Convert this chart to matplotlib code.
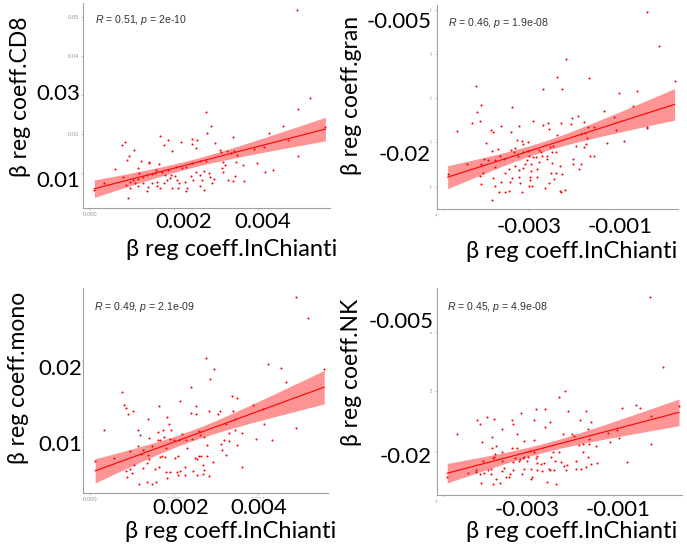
import numpy as np
import matplotlib
matplotlib.use("Agg")
import matplotlib.pyplot as plt
from matplotlib.patches import Rectangle

plt.rcParams.update({
    'font.family': ['Liberation Sans', 'DejaVu Sans'],
    'mathtext.fontset': 'custom',
    'mathtext.rm': 'Liberation Sans',
    'mathtext.it': 'Liberation Sans:italic',
})

W, H = 687, 551
BIG_FONT = ['Lato', 'DejaVu Sans']
RED = '#FF0000'

# ---- data (x in 1e-3, y in panel units) ----
cd8_pts = np.array([
    (2.75, 2.58), (2.88, 2.21), (2.77, 2.04), (1.66, 1.96), (0.82, 1.81), (0.77, 1.73),
    (1.75, 1.72), (1.85, 1.85), (2.17, 1.80), (2.42, 1.87), (2.55, 1.85), (2.42, 1.74),
    (2.53, 1.66), (2.98, 1.77), (3.41, 1.94), (1.05, 1.61), (1.94, 1.58), (0.92, 1.44),
    (0.87, 1.34), (1.21, 1.32), (1.39, 1.29), (1.39, 1.26), (1.64, 1.23), (0.59, 1.11),
    (1.15, 1.13), (1.17, 1.02), (0.33, 0.76), (0.90, 0.36), (3.09, 1.60), (3.12, 1.55),
    (3.25, 1.57), (3.35, 1.53), (3.43, 1.58), (3.49, 1.47), (3.16, 1.30), (3.21, 1.21),
    (3.14, 1.14), (3.16, 1.03), (3.48, 1.28), (3.64, 1.21), (3.28, 0.83), (3.40, 0.80),
    (3.45, 0.93), (3.66, 0.81), (2.76, 1.32), (2.61, 1.32), (2.42, 1.26), (2.29, 1.17),
    (2.18, 1.13), (2.04, 1.17), (1.86, 1.08), (1.71, 1.04), (1.55, 1.02), (1.47, 0.98),
    (1.35, 0.96), (1.25, 0.90), (1.15, 0.85), (1.03, 0.83), (0.95, 0.78), (0.86, 0.70),
    (0.95, 0.62), (1.07, 0.74), (1.27, 0.74), (1.37, 0.64), (1.36, 0.55), (1.47, 0.74),
    (1.59, 0.78), (1.59, 0.67), (1.67, 0.62), (1.75, 0.74), (1.83, 0.83), (1.90, 0.87),
    (1.93, 0.96), (2.02, 0.93), (2.06, 0.83), (2.12, 0.74), (2.10, 0.62), (2.26, 0.78),
    (2.30, 0.62), (2.40, 0.93), (2.46, 0.83), (2.52, 1.04), (2.62, 0.96), (2.67, 0.83),
    (2.62, 0.67), (2.72, 0.57), (2.82, 1.02), (2.86, 0.90), (2.90, 0.74), (2.94, 0.85),
    (2.70, 1.07), (2.28, 0.54), (1.96, 0.62), (1.56, 1.08), (1.79, 0.96), (1.15, 0.67),
    (0.79, 0.90), (4.93, 5.19), (5.23, 2.94), (4.94, 2.64), (5.60, 2.19), (4.59, 2.21),
    (4.26, 2.03), (4.94, 1.44), (4.17, 1.03), (4.36, 1.09), (3.97, 1.26), (3.91, 1.62),
    (4.14, 1.67), (4.70, 1.85), (0.10, 0.57),
])

gran_pts = np.array([
    (-2.11, -10.58), (-2.32, -12.58), (-2.20, -13.94), (-2.65, -13.94), (-4.24, -13.60),
    (-4.11, -15.82), (-4.21, -16.61), (-4.15, -17.56), (-4.67, -18.72), (-3.39, -15.97),
    (-3.64, -18.12), (-3.21, -18.12), (-2.90, -17.59), (-2.65, -18.01), (-2.54, -17.85),
    (-2.52, -18.46), (-2.23, -17.78), (-2.32, -19.17), (-3.88, -18.64), (-3.83, -18.83),
    (-3.40, -18.83), (-3.27, -19.71), (-3.99, -20.11), (-3.15, -19.89), (-3.13, -20.23),
    (-3.01, -19.93), (-3.32, -20.61), (-3.41, -20.87), (-3.85, -20.98), (-3.71, -20.79),
    (-3.34, -21.06), (-3.13, -21.06), (-3.02, -20.95), (-3.24, -21.55), (-2.99, -21.55),
    (-2.90, -21.70), (-2.83, -21.70), (-2.70, -21.06), (-2.68, -21.55), (-2.56, -21.55),
    (-2.44, -21.06), (-2.34, -21.06), (-2.50, -20.50), (-2.42, -20.42), (-2.74, -20.87),
    (-4.44, -22.49), (-4.04, -21.92), (-3.96, -22.00), (-3.78, -22.00), (-3.66, -21.55),
    (-3.58, -21.92), (-3.79, -22.76), (-3.03, -22.00), (-2.76, -22.19), (-2.56, -21.92),
    (-2.44, -22.31), (-3.08, -22.45), (-3.22, -23.13), (-3.13, -22.94), (-2.93, -22.45),
    (-2.80, -23.05), (-2.93, -23.21), (-3.32, -22.68), (-3.46, -23.02), (-3.56, -23.44),
    (-4.07, -23.44), (-4.15, -23.81), (-3.83, -24.00), (-3.38, -24.00), (-3.21, -23.89),
    (-2.97, -23.89), (-2.79, -23.89), (-2.97, -24.26), (-2.46, -23.44), (-2.36, -23.51),
    (-2.26, -22.68), (-2.20, -23.62), (-2.39, -24.18), (-2.51, -24.64), (-4.12, -24.72),
    (-3.78, -24.94), (-3.64, -24.46), (-3.44, -24.52), (-3.19, -24.57), (-2.98, -24.94),
    (-2.91, -24.94), (-2.60, -25.13), (-2.25, -25.51), (-2.14, -25.40), (-3.69, -25.66),
    (-3.54, -25.62), (-3.46, -25.54), (-3.16, -25.62), (-3.86, -26.53), (-0.21, -5.30),
    (0.08, -9.11), (-1.58, -12.76), (-0.86, -14.39), (-0.45, -14.20), (0.44, -13.07),
    (-0.54, -15.89), (-1.21, -16.46), (-0.98, -17.14), (-1.97, -17.29), (-1.84, -17.06),
    (-1.69, -17.67), (-2.00, -17.93), (-1.46, -18.27), (-1.60, -18.27), (-0.94, -18.57),
    (-0.20, -18.24), (-0.20, -18.42), (-1.76, -19.03), (-1.67, -18.91), (-1.61, -19.48),
    (-1.15, -20.05), (-0.76, -19.82), (-1.65, -20.23), (-1.87, -20.45), (-1.69, -20.50),
    (-1.56, -21.52), (-1.45, -21.58), (-1.95, -21.89), (-1.94, -22.42), (-1.77, -22.49),
    (-1.82, -23.02), (-2.23, -25.59), (-4.90, -23.59), (-4.33, -17.78), (-4.12, -22.45),
])

mono_pts = np.array([
    (2.75, 2.04), (2.95, 1.90), (2.86, 1.76), (2.40, 1.66), (0.77, 1.59), (0.80, 1.42),
    (0.86, 1.39), (1.03, 1.34), (0.91, 1.30), (1.64, 1.41), (2.14, 1.47), (2.53, 1.41),
    (2.83, 1.35), (2.40, 1.32), (2.52, 1.30), (3.39, 1.54), (3.50, 1.51), (3.05, 1.31),
    (3.09, 1.34), (3.41, 1.35), (1.83, 1.27), (1.39, 1.24), (1.89, 1.18), (0.33, 1.10),
    (1.14, 1.10), (1.73, 1.10), (1.62, 1.07), (1.92, 1.10), (1.18, 1.03), (1.76, 1.00),
    (1.67, 0.97), (1.40, 0.99), (1.61, 0.97), (1.90, 0.98), (2.01, 0.96), (2.13, 0.97),
    (2.20, 1.04), (2.28, 0.97), (2.43, 0.98), (2.61, 1.03), (2.71, 1.01), (2.59, 1.08),
    (3.25, 1.18), (3.45, 1.24), (3.46, 1.10), (3.31, 1.06), (3.19, 0.97), (3.30, 0.95),
    (3.50, 0.90), (3.12, 0.91), (3.14, 0.83), (3.25, 0.77), (2.93, 0.68), (2.79, 0.90),
    (2.30, 0.86), (1.80, 0.86), (1.47, 0.89), (1.26, 0.83), (1.22, 0.78), (1.14, 0.89),
    (0.95, 0.82), (0.57, 0.73), (0.12, 0.69), (1.37, 0.77), (1.41, 0.72), (1.71, 0.76),
    (1.66, 0.74), (1.78, 0.74), (2.02, 0.73), (2.10, 0.75), (2.50, 0.73), (2.59, 0.76),
    (2.64, 0.76), (2.55, 0.71), (2.79, 0.75), (1.36, 0.66), (1.04, 0.64), (1.25, 0.60),
    (0.94, 0.58), (0.86, 0.56), (1.00, 0.53), (0.89, 0.48), (1.55, 0.58), (1.63, 0.61),
    (1.82, 0.54), (1.90, 0.54), (1.84, 0.47), (2.07, 0.54), (2.15, 0.56), (2.25, 0.61),
    (2.46, 0.56), (2.69, 0.64), (2.71, 0.57), (2.55, 0.51), (2.69, 0.52), (2.84, 0.49),
    (2.26, 0.51), (2.09, 0.51), (1.36, 0.41), (1.48, 0.39), (1.57, 0.41), (1.17, 0.39),
    (3.63, 0.61), (4.90, 2.84), (5.20, 2.56), (4.25, 1.96), (4.56, 1.91), (5.58, 1.90),
    (4.66, 1.73), (3.88, 1.42), (4.11, 1.37), (4.15, 1.17), (3.63, 1.06), (4.90, 1.12),
    (3.95, 0.98), (4.33, 0.97),
])

nk_pts = np.array([
    (-2.14, 2.00), (-2.27, 1.91), (-2.61, 1.70), (-3.18, 1.63), (-3.97, 1.57), (-3.81, 1.54),
    (-4.20, 1.51), (-4.14, 1.44), (-3.38, 1.51), (-3.36, 1.45), (-2.87, 1.51), (-2.48, 1.48),
    (-2.61, 1.39), (-3.62, 1.36), (-4.67, 1.28), (-3.27, 1.28), (-2.18, 1.28), (-3.86, 1.23),
    (-3.09, 1.16), (-2.87, 1.18), (-4.09, 1.14), (-3.76, 1.08), (-3.85, 1.05), (-3.39, 1.04),
    (-3.26, 1.04), (-3.62, 0.98), (-3.78, 0.94), (-2.97, 0.99), (-2.87, 0.98), (-2.42, 0.98),
    (-2.28, 0.98), (-2.46, 0.90), (-3.00, 0.90), (-2.79, 0.91), (-2.82, 0.88), (-3.09, 0.89),
    (-3.12, 0.87), (-3.20, 0.86), (-3.31, 0.88), (-4.06, 0.82), (-3.83, 0.87), (-3.62, 0.83),
    (-3.36, 0.81), (-3.21, 0.82), (-3.04, 0.82), (-2.80, 0.80), (-2.62, 0.80), (-2.38, 0.82),
    (-2.24, 0.81), (-2.15, 0.75), (-2.12, 0.68), (-2.71, 0.78), (-2.40, 0.68), (-2.48, 0.68),
    (-2.51, 0.69), (-2.68, 0.66), (-2.80, 0.68), (-2.93, 0.69), (-3.09, 0.70), (-3.36, 0.68),
    (-3.58, 0.71), (-3.88, 0.69), (-3.96, 0.68), (-4.05, 0.63), (-4.24, 0.64), (-4.43, 0.62),
    (-4.14, 0.60), (-3.88, 0.61), (-3.62, 0.65), (-3.42, 0.60), (-3.15, 0.60), (-2.91, 0.55),
    (-2.93, 0.52), (-3.45, 0.55), (-3.52, 0.55), (-3.75, 0.52), (-4.11, 0.46), (-3.84, 0.44),
    (-3.66, 0.45), (-2.55, 0.47), (-2.34, 0.44), (-0.13, 3.59), (0.17, 2.41), (-2.06, 1.66),
    (-1.64, 1.67), (-0.79, 1.71), (-0.46, 1.76), (-0.36, 1.71), (0.55, 1.75), (-1.78, 1.52),
    (-1.52, 1.49), (-0.12, 1.58), (-1.60, 1.36), (-1.96, 1.28), (-1.93, 1.24), (-1.12, 1.29),
    (-0.90, 1.34), (-0.87, 1.22), (-1.08, 1.15), (-1.56, 1.19), (-1.72, 1.11), (-1.81, 1.10),
    (-1.56, 1.11), (-1.41, 1.08), (-1.71, 0.98), (-0.12, 1.11), (-1.59, 0.90), (-1.88, 0.83),
    (-1.88, 0.69), (-1.77, 0.70), (-1.63, 0.73), (-1.52, 0.78), (-1.39, 0.79), (-0.68, 0.81),
    (-2.09, 0.76), (-4.23, 0.68), (-3.81, 0.90), (-2.83, 1.70), (-4.91, 0.56),
])

stat_labels = ['$\\it{R}$ = 0.51, $\\it{p}$ = 2e-10',
               '$\\it{R}$ = 0.46, $\\it{p}$ = 1.9e-08',
               '$\\it{R}$ = 0.49, $\\it{p}$ = 2.1e-09',
               '$\\it{R}$ = 0.45, $\\it{p}$ = 4.9e-08']
ylabels = ['β reg coeff.CD8', 'β reg coeff.gran', 'β reg coeff.mono', 'β reg coeff.NK']
xlabel = 'β reg coeff.InChianti'

# scale of each series (x, y) and the original faint tick values
scales = [(1e-3, 1e-2), (1e-3, 1e-3), (1e-3, 1e-2), (1e-3, 1e-2)]
xticks_pos = [0.0, 0.002, 0.004]
xticks_neg = [-0.005, -0.003, -0.001]
yticks = [[0.01, 0.02, 0.03, 0.04, 0.05],
          [-0.025, -0.02, -0.015, -0.01, -0.005],
          [0.01, 0.02],
          [0.01, 0.02, 0.03]]
ytick_text = [['0.01', '0.02', '0.03', '0.04', '0.05'],
              ['-0.025', '-0.020', '-0.015', '-0.010', '-0.005'],
              ['0.01', '0.02'],
              ['0.01', '0.02', '0.03']]
xlims = [(-0.00017, 0.00571), (-0.00515, 0.00052), (-0.00017, 0.00567), (-0.00515, 0.00062)]
ylims = [(0.0011, 0.0537), (-0.02754, -0.00447), (0.0027, 0.02957), (0.00255, 0.03734)]

# overlaid big tick labels (pasted on top in the original)
big_y = [['0.03', '0.01'], ['-0.005', '-0.02'], ['0.02', '0.01'], ['-0.005', '-0.02']]
big_x = [['0.002', '0.004'], ['-0.003', '-0.001'], ['0.002', '0.004'], ['-0.003', '-0.001']]

# layout in pixels: (left, top, right, bottom) of each axes box
boxes = [(83, 3, 330, 208), (437, 5, 678, 209), (83, 288, 328, 493), (437, 288, 682, 495)]
big_y_pos = [[(80, 94), (80, 181)], [(432, 22), (431, 155)],
             [(82, 369), (82, 445)], [(434, 322), (432, 457)]]
big_x_pos = [[(184, 222), (263, 222)], [(529, 227), (620, 227)],
             [(181, 508), (259, 508)], [(527, 510), (618, 510)]]
xlabel_pos = [(232, 249), (572, 251), (231, 531), (572, 532)]
ylabel_pos = [(21, 97), (351, 95), (19, 378), (351, 372)]
stat_pos = [(0.049, 0.915), (0.046, 0.91), (0.045, 0.907), (0.041, 0.908)]
# white paste-over boxes of the original composite (x0, y0, x1, y1 in pixels)
covers = [(358, 0, 430, 207), (437, 211, 687, 221),
          (358, 286, 430, 493), (437, 497, 687, 507)]

fig = plt.figure(figsize=(W / 100, H / 100), dpi=100)
fig.patch.set_facecolor('white')

panels = [cd8_pts, gran_pts, mono_pts, nk_pts]
for i, pts in enumerate(panels):
    sx, sy = scales[i]
    x = pts[:, 0] * sx
    y = pts[:, 1] * sy
    l, t, r, b = boxes[i]
    ax = fig.add_axes([l / W, 1 - b / H, (r - l) / W, (b - t) / H])

    # linear fit with 95% confidence band, like geom_smooth(method = "lm")
    n = len(x)
    slope, intercept = np.polyfit(x, y, 1)
    xs = np.linspace(x.min(), x.max(), 100)
    resid = y - (slope * x + intercept)
    s = np.sqrt(np.sum(resid ** 2) / (n - 2))
    sxx = np.sum((x - x.mean()) ** 2)
    half = 1.97 * s * np.sqrt(1 / n + (xs - x.mean()) ** 2 / sxx)
    fit = slope * xs + intercept
    ax.fill_between(xs, fit - half, fit + half, color=RED, alpha=0.42, lw=0, zorder=1)
    ax.plot(xs, fit, color=RED, lw=0.8, zorder=2)
    ax.scatter(x, y, s=2.2, color=RED, lw=0, zorder=3)

    ax.set_xlim(*xlims[i])
    ax.set_ylim(*ylims[i])
    ax.set_xticks(xticks_pos if i % 2 == 0 else xticks_neg)
    ax.set_xticklabels(['%.3f' % v for v in (xticks_pos if i % 2 == 0 else xticks_neg)])
    ax.set_yticks(yticks[i])
    ax.set_yticklabels(ytick_text[i])
    ax.tick_params(labelsize=4.2, colors='#9a9a9a', length=1.5, width=0.4, pad=1.5)
    for side in ['top', 'right']:
        ax.spines[side].set_visible(False)
    for side in ['left', 'bottom']:
        ax.spines[side].set_color('#a0a0a0')
        ax.spines[side].set_linewidth(0.8)

    ax.text(stat_pos[i][0], stat_pos[i][1], stat_labels[i], transform=ax.transAxes,
            fontsize=7.6, color='#333333', ha='left', va='center')

    # big overlaid labels
    box = dict(facecolor='white', edgecolor='none', pad=0.3)
    for lab, (px, py) in zip(big_y[i], big_y_pos[i]):
        fig.text(px / W, 1 - py / H, lab, ha='right', va='center', fontsize=16,
                 family=BIG_FONT, bbox=box, zorder=5)
    for lab, (px, py) in zip(big_x[i], big_x_pos[i]):
        fig.text(px / W, 1 - py / H, lab, ha='center', va='center', fontsize=16,
                 family=BIG_FONT, bbox=box, zorder=5)
    fig.text(xlabel_pos[i][0] / W, 1 - xlabel_pos[i][1] / H, xlabel, ha='center',
             va='center', fontsize=17, family=BIG_FONT, zorder=5)
    fig.text(ylabel_pos[i][0] / W, 1 - ylabel_pos[i][1] / H, ylabels[i], ha='center',
             va='center', rotation=90, fontsize=16.5, family=BIG_FONT, zorder=5)

for x0, y0, x1, y1 in covers:
    fig.patches.append(Rectangle((x0 / W, 1 - y1 / H), (x1 - x0) / W, (y1 - y0) / H,
                                 transform=fig.transFigure, facecolor='white',
                                 edgecolor='none', zorder=2))

fig.savefig('out.png', dpi=100, facecolor='white')
